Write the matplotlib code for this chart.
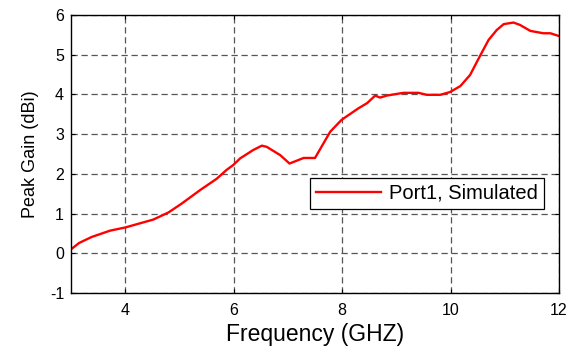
import matplotlib.pyplot as plt

plt.rcParams['font.family'] = ['Liberation Sans', 'DejaVu Sans']
plt.rcParams['axes.unicode_minus'] = False

# 频率 (GHz) 与峰值增益 (dBi)
freq = [3.0, 3.15, 3.38, 3.72, 4.0, 4.52, 4.80, 5.04, 5.38, 5.69, 5.87, 5.99, 6.12, 6.36,
        6.52, 6.61, 6.86, 7.03, 7.29, 7.50, 7.78, 7.99, 8.30, 8.46, 8.61, 8.70, 8.82,
        9.13, 9.41, 9.56, 9.81, 9.99, 10.18, 10.36, 10.52, 10.70, 10.85, 10.98,
        11.16, 11.28, 11.47, 11.71, 11.84, 12.0]
gain = [0.10, 0.26, 0.41, 0.57, 0.65, 0.85, 1.03, 1.25, 1.59, 1.88, 2.10, 2.22, 2.39, 2.60,
        2.71, 2.68, 2.47, 2.26, 2.40, 2.40, 3.06, 3.36, 3.65, 3.78, 3.97, 3.92, 3.97,
        4.04, 4.04, 3.99, 3.99, 4.06, 4.21, 4.49, 4.91, 5.37, 5.62, 5.77,
        5.81, 5.75, 5.60, 5.54, 5.54, 5.47]

fig = plt.figure(figsize=(5.73, 3.47), dpi=100)
ax = fig.add_axes([0.1239, 0.1556, 0.8517, 0.8012])

ax.plot(freq, gain, color='red', lw=1.7, label='Port1, Simulated')

ax.set_xlim(3, 12)
ax.set_ylim(-1, 6)
ax.set_xticks([4, 6, 8, 10, 12])
ax.set_yticks(range(-1, 7))
ax.tick_params(direction='in', top=True, right=True, labelsize=11.5, length=3)
ax.tick_params(axis='x', pad=7)
ax.tick_params(axis='y', pad=5)
ax.grid(True, color='#555555', linestyle=(0, (5, 3)), linewidth=0.9)
for s in ax.spines.values():
    s.set_linewidth(1.0)

ax.set_xlabel('Frequency (GHZ)', fontsize=16.5, labelpad=4)
ax.set_ylabel('Peak Gain (dBi)', fontsize=13, labelpad=8)

leg = ax.legend(loc='upper right', bbox_to_anchor=(0.969, 0.414), borderaxespad=0,
                fontsize=14.5, fancybox=False, framealpha=1, edgecolor='black',
                handlelength=3.2, handletextpad=0.4, borderpad=0.3)
leg.get_frame().set_linewidth(0.9)

plt.savefig('out.png', dpi=100)
